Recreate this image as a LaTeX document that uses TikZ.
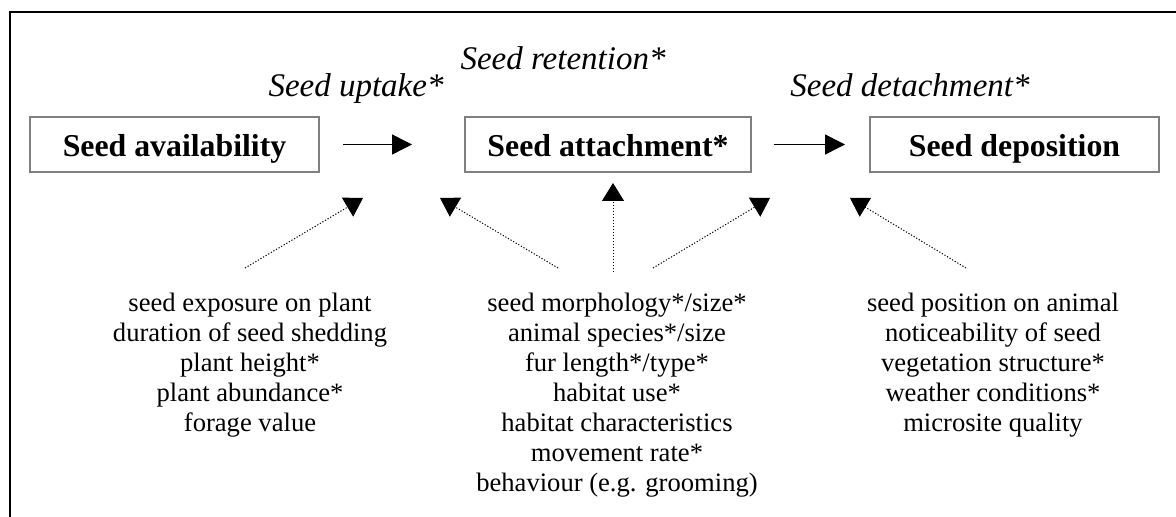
\documentclass[tikz,border=0pt]{standalone}
\usepackage{fontspec}
\setmainfont{Liberation Serif}
\usetikzlibrary{arrows.meta,positioning}
\tikzset{
  stage/.style={draw=black!50,line width=1pt,minimum width=144.5pt,minimum height=27.5pt,
    inner sep=0pt,text height=14pt,text depth=1.5pt,
    font=\fontsize{15.9}{18}\selectfont\bfseries},
  proc/.style={inner sep=0pt,anchor=base,font=\fontsize{16.5}{19}\selectfont\itshape},
  factors/.style={align=center,inner sep=0pt,anchor=north,
    font=\fontsize{13.3}{15}\selectfont},
  flow/.style={-{Triangle[length=10pt,width=10pt]},line width=.75pt},
  infl/.style={-{Triangle[length=9pt,width=11pt]},line width=.5pt,
    dash pattern=on .6pt off .9pt},
}

\begin{document}
\begin{tikzpicture}[x=.5pt,y=-.5pt]
  \useasboundingbox (0,0) rectangle (1176,517);
  \draw[line width=1pt] (10,517) -- (10,12) -- (1176,12);
  % stages
  \node[stage] (avail) at (174.5,144.5) {Seed availability};
  \node[stage,minimum width=143pt] (attach) at (608,144.5) {Seed attachment*};
  \node[stage] (depos) at (1014.5,144.5) {Seed deposition};
  % processes
  \node[proc] (uptake) at (356,97) {Seed uptake*};
  \node[proc] (retain) at (563,70) {Seed retention*};
  \node[proc] (detach) at (910,97) {Seed detachment*};
  \draw[flow,shorten <=11.5pt,shorten >=26pt] (avail) -- (attach);
  \draw[flow,shorten <=11pt,shorten >=12pt] (attach) -- (depos);
  % factors
  \node[factors] (plantf) at (250,293) {seed exposure on plant\\
    duration of seed shedding\\ plant height*\\ plant abundance*\\ forage value};
  \node[factors] (animalf) at (617,293) {seed morphology*/size*\\
    animal species*/size\\ fur length*/type*\\ habitat use*\\
    habitat characteristics\\ movement rate*\\ behaviour (e.g. grooming)};
  \node[factors] (sitef) at (993,293) {seed position on animal\\
    noticeability of seed\\ vegetation structure*\\ weather conditions*\\
    microsite quality};
  % influence arrows
  \coordinate (s1) at (245,268);  \coordinate (t1) at (363,198);
  \coordinate (s2) at (558,268);  \coordinate (t2) at (440,198);
  \coordinate (s3) at (613,272);  \coordinate (t3) at (613,183);
  \coordinate (s4) at (653,268);  \coordinate (t4) at (770,198);
  \coordinate (s5) at (966,268);  \coordinate (t5) at (850,198);
  \foreach \i in {1,...,5}{\draw[infl] (s\i) -- (t\i);}
\end{tikzpicture}
\end{document}
